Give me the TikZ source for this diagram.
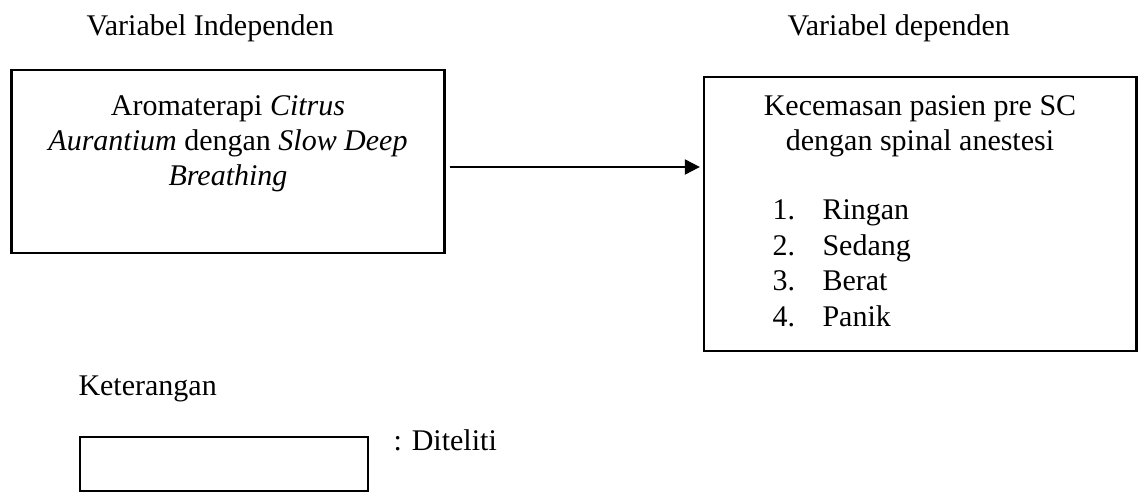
\documentclass[tikz,border=0pt]{standalone}
\usepackage{fontspec}
\setmainfont{Liberation Serif}
\usetikzlibrary{arrows.meta}
\begin{document}
\begin{tikzpicture}[x=0.4pt,y=-0.4pt,
  txt/.style={inner sep=0pt,font=\fontsize{12}{13.8}\selectfont},
  box/.style={draw,line width=0.9pt,inner sep=0pt},
  arr/.style={line width=0.8pt,-{Triangle[length=6pt,width=6pt]}}]
\useasboundingbox (0,0) rectangle (1142,492);
% titles
\node[txt,anchor=base west] (t1) at (86,36) {Variabel Independen};
\node[txt,anchor=base west] (t2) at (787,36) {Variabel dependen};
% left box
\node[box,minimum width=173.2pt,minimum height=73.2pt] (L) at (228,161.5) {};
\node[txt,anchor=base] (l1) at (228,116) {Aromaterapi \textit{Citrus}};
\node[txt,anchor=base] (l2) at (228,151) {\textit{Aurantium} dengan \textit{Slow Deep}};
\node[txt,anchor=base] (l3) at (228,186) {\textit{Breathing}};
% right box
\node[box,minimum width=173pt,minimum height=109.6pt] (R) at (920.25,214) {};
\node[txt,anchor=base] (r1) at (920,116) {Kecemasan pasien pre SC};
\node[txt,anchor=base] (r2) at (920,151) {dengan spinal anestesi};
\node[txt,anchor=base west] (n1) at (772,220) {1.};
\node[txt,anchor=base west] (i1) at (822,220) {Ringan};
\node[txt,anchor=base west] (n2) at (772,255.5) {2.};
\node[txt,anchor=base west] (i2) at (822,255.5) {Sedang};
\node[txt,anchor=base west] (n3) at (772,291) {3.};
\node[txt,anchor=base west] (i3) at (822,291) {Berat};
\node[txt,anchor=base west] (n4) at (772,326.5) {4.};
\node[txt,anchor=base west] (i4) at (822,326.5) {Panik};
% arrow
\coordinate (a) at ([shift={(1.6pt,-2.2pt)}]L.east);
\draw[arr] (a) -- ([xshift=-1.2pt]a -| R.west);
% legend
\node[txt,anchor=base west] (k) at (78,396) {Keterangan};
\node[box,minimum width=115.2pt,minimum height=21.6pt] (lg) at (224,464) {};
\node[txt,anchor=base west] (d) at (393,451) {: Diteliti};
\end{tikzpicture}
\end{document}
